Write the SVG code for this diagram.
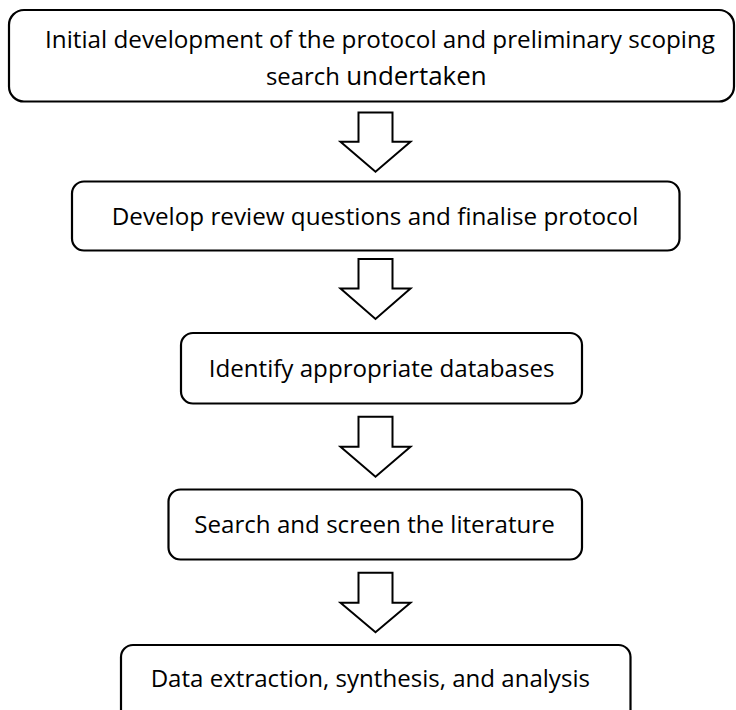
<svg xmlns="http://www.w3.org/2000/svg" width="736" height="710" viewBox="0 0 736 710">
  <style>
    .box { fill: #ffffff; stroke: #000000; stroke-width: 2.2; }
    .arrow { fill: #ffffff; stroke: #000000; stroke-width: 2; stroke-linejoin: miter; }
    .label { font-family: "Open Sans", "Lato", "Liberation Sans", sans-serif; font-size: 24px; fill: #000000; text-anchor: middle; }
  </style>
  <rect x="0" y="0" width="736" height="710" fill="#ffffff"/>
  <g id="connectors">
    <polygon class="arrow" points="358.5,112.5 392.5,112.5 392.5,141.7 410.5,141.7 375.5,171.7 340.5,141.7 358.5,141.7"/>
    <polygon class="arrow" points="358.5,259 392.5,259 392.5,288.5 410.5,288.5 375.5,319 340.5,288.5 358.5,288.5"/>
    <polygon class="arrow" points="358.5,416.7 392.5,416.7 392.5,446.7 410.5,446.7 375.5,476.7 340.5,446.7 358.5,446.7"/>
    <polygon class="arrow" points="358.5,572.7 392.5,572.7 392.5,602.7 410.5,602.7 375.5,632.3 340.5,602.7 358.5,602.7"/>
  </g>
  <g id="node1">
    <rect class="box" x="9" y="10" width="725" height="91.5" rx="15" ry="15"/>
    <text class="label" x="380" y="48.3" textLength="670" lengthAdjust="spacingAndGlyphs">Initial development of the protocol and preliminary scoping</text>
    <text class="label" x="376.3" y="85" textLength="220.7" lengthAdjust="spacingAndGlyphs">search <tspan font-size="26">undertaken</tspan></text>
  </g>
  <g id="node2">
    <rect class="box" x="72" y="181.5" width="607.5" height="69" rx="12" ry="12"/>
    <text class="label" x="375" y="225" textLength="526.6" lengthAdjust="spacingAndGlyphs">Develop review questions and finalise protocol</text>
  </g>
  <g id="node3">
    <rect class="box" x="181" y="333" width="401" height="70.5" rx="12" ry="12"/>
    <text class="label" x="381.6" y="376.7" textLength="345.8" lengthAdjust="spacingAndGlyphs">Identify appropriate databases</text>
  </g>
  <g id="node4">
    <rect class="box" x="168.5" y="489.5" width="413.5" height="70" rx="12" ry="12"/>
    <text class="label" x="374.5" y="533" textLength="360.4" lengthAdjust="spacingAndGlyphs">Search and screen the literature</text>
  </g>
  <g id="node5">
    <rect class="box" x="121" y="645" width="509.5" height="80" rx="12" ry="12"/>
    <text class="label" x="370.3" y="687" textLength="439.3" lengthAdjust="spacingAndGlyphs">Data extraction, synthesis, and analysis</text>
  </g>
</svg>
